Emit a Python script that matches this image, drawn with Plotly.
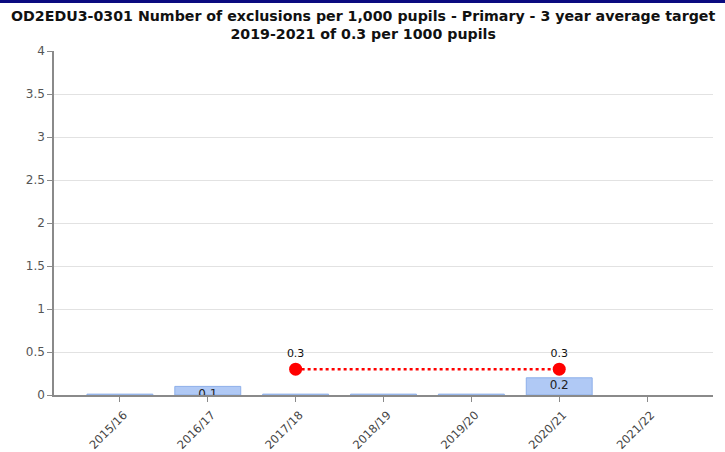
import plotly.graph_objects as go

categories = ["2015/16", "2016/17", "2017/18", "2018/19", "2019/20", "2020/21", "2021/22"]
actual_values = [0.01, 0.1, 0.01, 0.01, 0.01, 0.2, None]
actual_labels = ["", "0.1", "", "", "", "0.2", ""]
target_categories = ["2017/18", "2018/19", "2019/20", "2020/21"]
target_values = [0.3, 0.3, 0.3, 0.3]
target_labels = ["0.3", "", "", "0.3"]
y_ticks = [0, 0.5, 1, 1.5, 2, 2.5, 3, 3.5, 4]
title_text = ("OD2EDU3-0301 Number of exclusions per 1,000 pupils - Primary - 3 year average target"
              "<br>2019-2021 of 0.3 per 1000 pupils")

W, H = 725, 452
L, R, T, B = 54, 12, 51, 57
pw, ph = W - L - R, H - T - B

fig = go.Figure()
fig.add_trace(go.Bar(
    x=categories, y=actual_values, width=0.75,
    marker=dict(color="#b0c9f5", line=dict(color="#8dafe9", width=1)),
    showlegend=False, hoverinfo="x+y",
))
label_y = [(v - 0.1) if (v is not None and t) else None for v, t in zip(actual_values, actual_labels)]
fig.add_trace(go.Scatter(
    x=categories, y=label_y, mode="text", text=actual_labels,
    textposition="middle center", cliponaxis=True,
    textfont=dict(family="DejaVu Sans", size=12, color="#222"),
    showlegend=False, hoverinfo="skip",
))
fig.add_trace(go.Scatter(
    x=target_categories, y=target_values, mode="lines+markers+text",
    text=target_labels, textposition="top center",
    textfont=dict(family="DejaVu Sans", size=11, color="#111"),
    line=dict(color="#ff0000", width=2.5, dash="dot"),
    marker=dict(color="#ff0000", size=[13, 0, 0, 13], opacity=1, line=dict(width=0)),
    opacity=1, cliponaxis=False, showlegend=False,
))

fig.update_layout(
    width=W, height=H,
    margin=dict(l=L, r=R, t=T, b=B, autoexpand=False),
    paper_bgcolor="white", plot_bgcolor="white",
    bargap=0.25,
    annotations=[dict(text=title_text, xref="paper", yref="paper",
                      x=(W / 2 - L) / pw, y=1 + (T - 6) / ph,
                      xanchor="center", yanchor="top", showarrow=False,
                      align="center",
                      font=dict(family="DejaVu Sans", size=14.2, color="#111", weight="bold"))],
    shapes=[dict(type="rect", xref="paper", yref="paper",
                 x0=-L / pw, x1=1 + R / pw, y0=1 + (T - 3) / ph, y1=1 + (T + 1) / ph,
                 fillcolor="#0a0a80", line=dict(width=0), layer="above")],
)
fig.update_xaxes(
    type="category", categoryorder="array", categoryarray=categories,
    range=[-0.75, 6.75], tickangle=-45, showgrid=False, automargin=False,
    showline=True, linecolor="#8a8a8a", linewidth=1.5,
    ticks="outside", ticklen=5, tickcolor="#8a8a8a",
    ticklabelstandoff=2, ticklabelshift=4,
    tickfont=dict(family="DejaVu Sans", size=11.5, color="#444"),
)
fig.update_yaxes(
    range=[0, 4], tickvals=y_ticks, ticktext=[str(v) for v in y_ticks],
    showgrid=True, gridcolor="#e2e2e2", gridwidth=1, zeroline=False, automargin=False,
    showline=True, linecolor="#8a8a8a", linewidth=1.5,
    ticks="outside", ticklen=5, tickcolor="#8a8a8a",
    tickfont=dict(family="DejaVu Sans", size=12, color="#555"),
)
fig.write_html("out.html", config={"displayModeBar": False},
               post_script="document.body.style.margin='0';")
